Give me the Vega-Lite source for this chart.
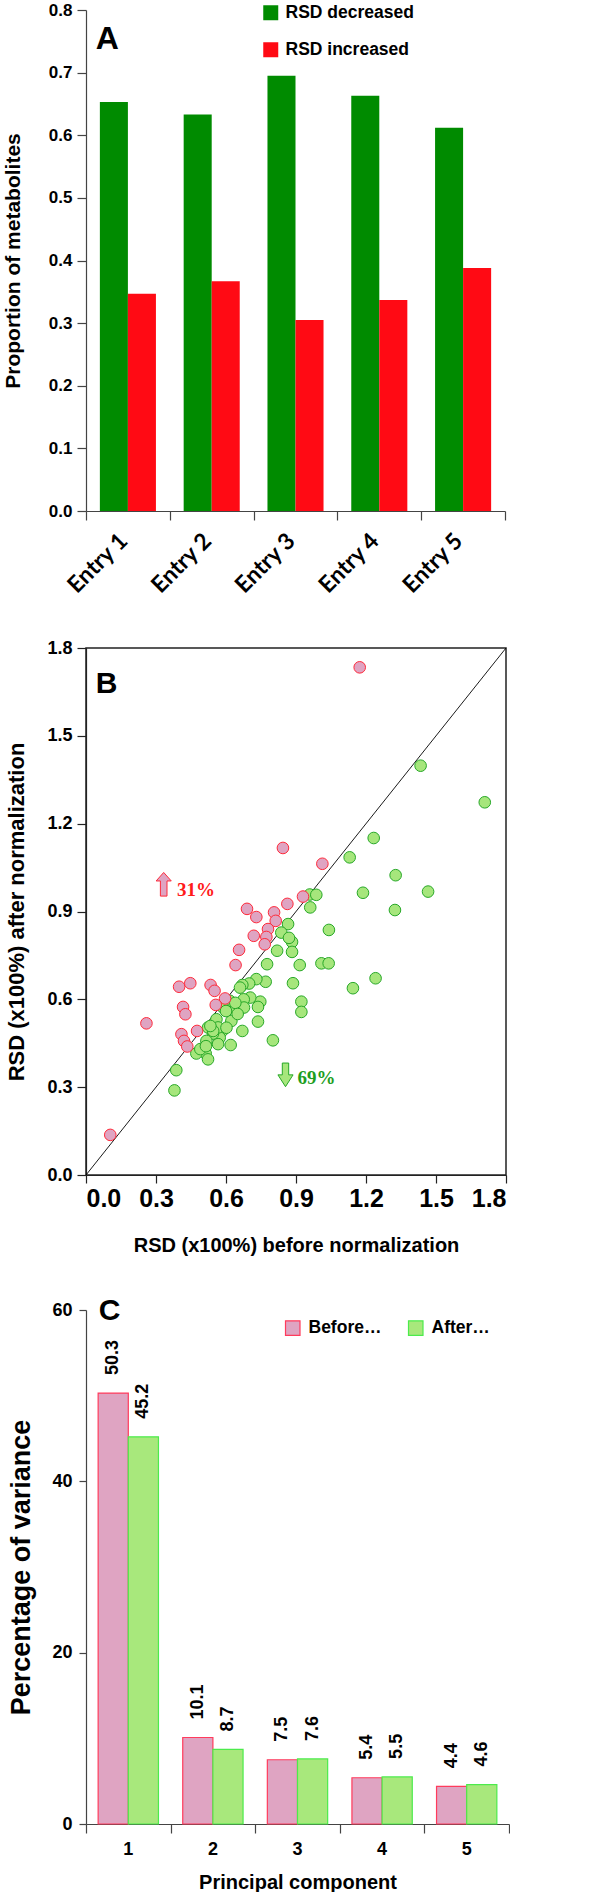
{
  "$schema": "https://vega.github.io/schema/vega-lite/v6.json",
  "padding": {"left": 2, "top": 1, "right": 0, "bottom": 0},
  "background": "white",
  "spacing": 40,
  "resolve": {
    "scale": {"xOffset": "independent", "color": "independent", "fill": "independent", "stroke": "independent", "shape": "independent"},
    "legend": {"color": "independent", "fill": "independent", "stroke": "independent", "shape": "independent"}
  },
  "config": {
    "view": {"stroke": null},
    "font": "Liberation Sans",
    "axis": {"grid": false, "domainColor": "#444", "tickColor": "#444", "domainWidth": 1.2, "tickWidth": 1.2,
      "labelFont": "Liberation Sans", "labelFontWeight": "bold", "labelColor": "#000",
      "titleFont": "Liberation Sans", "titleFontWeight": "bold", "titleColor": "#000"},
    "legend": {"labelFont": "Liberation Sans", "labelColor": "#000"}
  },
  "vconcat": [
    {
      "width": 419, "height": 501,
      "layer": [
        {
          "data": {"values": [
            {"entry": "Entry 1", "group": "RSD decreased", "value": 0.653},
            {"entry": "Entry 1", "group": "RSD increased", "value": 0.347},
            {"entry": "Entry 2", "group": "RSD decreased", "value": 0.633},
            {"entry": "Entry 2", "group": "RSD increased", "value": 0.367},
            {"entry": "Entry 3", "group": "RSD decreased", "value": 0.695},
            {"entry": "Entry 3", "group": "RSD increased", "value": 0.305},
            {"entry": "Entry 4", "group": "RSD decreased", "value": 0.663},
            {"entry": "Entry 4", "group": "RSD increased", "value": 0.337},
            {"entry": "Entry 5", "group": "RSD decreased", "value": 0.612},
            {"entry": "Entry 5", "group": "RSD increased", "value": 0.388}
          ]},
          "mark": {"type": "bar"},
          "encoding": {
            "x": {"field": "entry", "type": "nominal", "sort": null,
              "scale": {"paddingInner": 0.331, "paddingOuter": 0.1655},
              "axis": {"orient": "bottom", "title": null, "ticks": false, "domain": false, "labelAngle": -45,
                "labelFont": "Lato", "labelFontSize": 23, "labelFontWeight": "bold", "labelPadding": 26, "labelBaseline": "middle",
                "labelOffset": -4, "labelOverlap": false, "labelBound": false}},
            "xOffset": {"field": "group", "type": "nominal", "scale": {"domain": ["RSD decreased", "RSD increased"], "paddingInner": 0, "paddingOuter": 0}},
            "y": {"field": "value", "type": "quantitative", "scale": {"domain": [0, 0.8], "nice": false},
              "axis": {"values": [0, 0.1, 0.2, 0.3, 0.4, 0.5, 0.6, 0.7, 0.8], "format": ".1f", "tickSize": 9,
                "labelPadding": 5, "labelFontSize": 17, "title": "Proportion of metabolites", "titleFontSize": 21, "titlePadding": 25}},
            "color": {"field": "group", "type": "nominal",
              "scale": {"domain": ["RSD decreased", "RSD increased"], "range": ["#008B00", "#FF0A14"]},
              "legend": {"orient": "none", "legendX": 176, "legendY": -6, "title": null, "symbolType": "square",
                "symbolSize": 225, "symbolStrokeWidth": 0, "symbolOpacity": 1, "labelFontSize": 17.5, "labelFontWeight": "bold",
                "labelOffset": 6, "rowPadding": 18, "padding": 0}}
          }
        },
        {
          "layer": [
            {
              "data": {"values": [{"label": "A"}]},
              "mark": {"type": "text", "font": "Liberation Sans", "fontWeight": "bold", "fontSize": 32, "align": "left", "baseline": "alphabetic"},
              "encoding": {"x": {"datum": 0.115, "type": "quantitative"}, "y": {"datum": 0.738, "type": "quantitative"}, "text": {"field": "label"}}
            },
            {
              "data": {"values": [{}]},
              "mark": {"type": "rule", "opacity": 0},
              "encoding": {"x": {"datum": 0, "type": "quantitative", "scale": {"domain": [0, 5], "nice": false},
                "axis": {"orient": "bottom", "values": [0, 1, 2, 3, 4, 5], "labels": false, "title": null, "tickSize": 9, "domain": true}}}
            }
          ]
        }
      ],
      "resolve": {"scale": {"x": "independent"}, "axis": {"x": "independent"}}
    },
    {
      "width": 420, "height": 527,
      "view": {"stroke": "#222", "strokeWidth": 1.5},
      "layer": [
        {
          "data": {"values": [{}]},
          "mark": {"type": "rule", "color": "#000", "strokeWidth": 0.9},
          "encoding": {"x": {"datum": 0, "type": "quantitative"}, "y": {"datum": 0, "type": "quantitative"}, "x2": {"datum": 1.8}, "y2": {"datum": 1.8}}
        },
        {
          "data": {"values": [
            {"before": 1.434, "after": 1.398, "change": "decreased"},
            {"before": 1.709, "after": 1.273, "change": "decreased"},
            {"before": 1.233, "after": 1.151, "change": "decreased"},
            {"before": 1.13, "after": 1.085, "change": "decreased"},
            {"before": 1.327, "after": 1.024, "change": "decreased"},
            {"before": 1.187, "after": 0.964, "change": "decreased"},
            {"before": 1.466, "after": 0.968, "change": "decreased"},
            {"before": 0.959, "after": 0.958, "change": "decreased"},
            {"before": 0.987, "after": 0.957, "change": "decreased"},
            {"before": 0.961, "after": 0.914, "change": "decreased"},
            {"before": 1.324, "after": 0.905, "change": "decreased"},
            {"before": 1.041, "after": 0.837, "change": "decreased"},
            {"before": 0.866, "after": 0.857, "change": "decreased"},
            {"before": 0.837, "after": 0.828, "change": "decreased"},
            {"before": 0.883, "after": 0.796, "change": "decreased"},
            {"before": 0.883, "after": 0.762, "change": "decreased"},
            {"before": 0.819, "after": 0.766, "change": "decreased"},
            {"before": 0.776, "after": 0.72, "change": "decreased"},
            {"before": 0.916, "after": 0.717, "change": "decreased"},
            {"before": 1.009, "after": 0.723, "change": "decreased"},
            {"before": 1.04, "after": 0.723, "change": "decreased"},
            {"before": 1.241, "after": 0.672, "change": "decreased"},
            {"before": 1.144, "after": 0.638, "change": "decreased"},
            {"before": 0.887, "after": 0.655, "change": "decreased"},
            {"before": 0.923, "after": 0.592, "change": "decreased"},
            {"before": 0.923, "after": 0.557, "change": "decreased"},
            {"before": 0.801, "after": 0.46, "change": "decreased"},
            {"before": 0.77, "after": 0.66, "change": "decreased"},
            {"before": 0.73, "after": 0.669, "change": "decreased"},
            {"before": 0.699, "after": 0.654, "change": "decreased"},
            {"before": 0.67, "after": 0.649, "change": "decreased"},
            {"before": 0.747, "after": 0.592, "change": "decreased"},
            {"before": 0.737, "after": 0.574, "change": "decreased"},
            {"before": 0.737, "after": 0.524, "change": "decreased"},
            {"before": 0.704, "after": 0.606, "change": "decreased"},
            {"before": 0.676, "after": 0.6, "change": "decreased"},
            {"before": 0.677, "after": 0.572, "change": "decreased"},
            {"before": 0.63, "after": 0.572, "change": "decreased"},
            {"before": 0.616, "after": 0.595, "change": "decreased"},
            {"before": 0.623, "after": 0.526, "change": "decreased"},
            {"before": 0.62, "after": 0.444, "change": "decreased"},
            {"before": 0.67, "after": 0.492, "change": "decreased"},
            {"before": 0.584, "after": 0.492, "change": "decreased"},
            {"before": 0.573, "after": 0.469, "change": "decreased"},
            {"before": 0.566, "after": 0.447, "change": "decreased"},
            {"before": 0.544, "after": 0.483, "change": "decreased"},
            {"before": 0.559, "after": 0.532, "change": "decreased"},
            {"before": 0.566, "after": 0.504, "change": "decreased"},
            {"before": 0.516, "after": 0.458, "change": "decreased"},
            {"before": 0.523, "after": 0.504, "change": "decreased"},
            {"before": 0.513, "after": 0.415, "change": "decreased"},
            {"before": 0.473, "after": 0.415, "change": "decreased"},
            {"before": 0.523, "after": 0.395, "change": "decreased"},
            {"before": 0.387, "after": 0.358, "change": "decreased"},
            {"before": 0.379, "after": 0.289, "change": "decreased"},
            {"before": 0.49, "after": 0.43, "change": "decreased"},
            {"before": 0.514, "after": 0.44, "change": "decreased"},
            {"before": 0.545, "after": 0.492, "change": "decreased"},
            {"before": 0.64, "after": 0.588, "change": "decreased"},
            {"before": 0.589, "after": 0.571, "change": "decreased"},
            {"before": 0.533, "after": 0.509, "change": "decreased"},
            {"before": 0.602, "after": 0.503, "change": "decreased"},
            {"before": 0.66, "after": 0.64, "change": "decreased"},
            {"before": 0.6, "after": 0.56, "change": "decreased"},
            {"before": 0.65, "after": 0.55, "change": "decreased"},
            {"before": 0.87, "after": 0.81, "change": "decreased"},
            {"before": 1.173, "after": 1.734, "change": "increased"},
            {"before": 0.844, "after": 1.117, "change": "increased"},
            {"before": 1.013, "after": 1.063, "change": "increased"},
            {"before": 0.863, "after": 0.926, "change": "increased"},
            {"before": 0.93, "after": 0.951, "change": "increased"},
            {"before": 0.69, "after": 0.909, "change": "increased"},
            {"before": 0.73, "after": 0.881, "change": "increased"},
            {"before": 0.806, "after": 0.897, "change": "increased"},
            {"before": 0.813, "after": 0.868, "change": "increased"},
            {"before": 0.78, "after": 0.84, "change": "increased"},
            {"before": 0.719, "after": 0.817, "change": "increased"},
            {"before": 0.773, "after": 0.813, "change": "increased"},
            {"before": 0.766, "after": 0.788, "change": "increased"},
            {"before": 0.656, "after": 0.769, "change": "increased"},
            {"before": 0.641, "after": 0.717, "change": "increased"},
            {"before": 0.399, "after": 0.643, "change": "increased"},
            {"before": 0.447, "after": 0.655, "change": "increased"},
            {"before": 0.534, "after": 0.649, "change": "increased"},
            {"before": 0.551, "after": 0.629, "change": "increased"},
            {"before": 0.596, "after": 0.603, "change": "increased"},
            {"before": 0.556, "after": 0.581, "change": "increased"},
            {"before": 0.416, "after": 0.574, "change": "increased"},
            {"before": 0.426, "after": 0.549, "change": "increased"},
            {"before": 0.259, "after": 0.518, "change": "increased"},
            {"before": 0.476, "after": 0.492, "change": "increased"},
            {"before": 0.409, "after": 0.481, "change": "increased"},
            {"before": 0.42, "after": 0.458, "change": "increased"},
            {"before": 0.434, "after": 0.439, "change": "increased"},
            {"before": 0.104, "after": 0.137, "change": "increased"}
          ]},
          "mark": {"type": "point", "shape": "circle", "filled": true, "size": 135, "strokeWidth": 1, "opacity": 1},
          "encoding": {
            "x": {"field": "before", "type": "quantitative", "scale": {"domain": [0, 1.8], "nice": false},
              "axis": {"values": [0, 0.3, 0.6, 0.9, 1.2, 1.5, 1.8], "format": ".1f", "tickSize": 8, "labelFontSize": 25,
                "labelPadding": 3, "domainColor": "#222", "tickColor": "#222",
                "title": "RSD (x100%) before normalization", "titleFontSize": 20, "titlePadding": 24}},
            "y": {"field": "after", "type": "quantitative", "scale": {"domain": [0, 1.8], "nice": false},
              "axis": {"values": [0, 0.3, 0.6, 0.9, 1.2, 1.5, 1.8], "format": ".1f", "tickSize": 9, "labelFontSize": 18,
                "labelPadding": 5, "domainColor": "#222", "tickColor": "#222",
                "title": "RSD (x100%) after normalization", "titleFontSize": 22, "titlePadding": 18}},
            "fill": {"field": "change", "type": "nominal", "scale": {"domain": ["decreased", "increased"], "range": ["#A6E67C", "#DFA4C2"]}, "legend": null},
            "stroke": {"field": "change", "type": "nominal", "scale": {"domain": ["decreased", "increased"], "range": ["#27A827", "#FF2A3A"]}, "legend": null}
          }
        },
        {
          "data": {"values": [
            {"label": "31%", "ax": 0.333, "ay": 0.993, "tx": 0.39, "ty": 0.975, "kind": "up"},
            {"label": "69%", "ax": 0.855, "ay": 0.342, "tx": 0.906, "ty": 0.333, "kind": "down"}
          ]},
          "layer": [
            {
              "mark": {"type": "point", "filled": true, "size": 560, "strokeWidth": 1, "opacity": 1},
              "encoding": {
                "x": {"field": "ax", "type": "quantitative"},
                "y": {"field": "ay", "type": "quantitative"},
                "shape": {"field": "kind", "type": "nominal", "scale": {"domain": ["up", "down"], "range": [
                  "M -0.28 1 L -0.28 -0.28 L -0.64 -0.28 L 0 -1 L 0.64 -0.28 L 0.28 -0.28 L 0.28 1 Z",
                  "M -0.27 -1 L -0.27 0 L -0.64 0 L 0 1 L 0.64 0 L 0.27 0 L 0.27 -1 Z"]}, "legend": null},
                "fill": {"field": "kind", "type": "nominal", "scale": {"domain": ["up", "down"], "range": ["#DFA4C2", "#A6E67C"]}, "legend": null},
                "stroke": {"field": "kind", "type": "nominal", "scale": {"domain": ["up", "down"], "range": ["#FF2A3A", "#27A827"]}, "legend": null}
              }
            },
            {
              "mark": {"type": "text", "font": "Liberation Serif", "fontWeight": "bold", "fontSize": 19, "align": "left", "baseline": "middle"},
              "encoding": {
                "x": {"field": "tx", "type": "quantitative"},
                "y": {"field": "ty", "type": "quantitative"},
                "text": {"field": "label"},
                "color": {"field": "kind", "type": "nominal", "scale": {"domain": ["up", "down"], "range": ["#FF1A1A", "#1E9E1E"]}, "legend": null}
              }
            }
          ]
        },
        {
          "data": {"values": [{"label": "B"}]},
          "mark": {"type": "text", "font": "Liberation Sans", "fontWeight": "bold", "fontSize": 30, "align": "left", "baseline": "alphabetic"},
          "encoding": {"x": {"datum": 0.042, "type": "quantitative"}, "y": {"datum": 1.647, "type": "quantitative"}, "text": {"field": "label"}}
        }
      ],
      "resolve": {"scale": {"color": "independent", "fill": "independent", "stroke": "independent"}}
    },
    {
      "width": 423, "height": 514,
      "layer": [
        {
          "data": {"values": [
            {"pc": "1", "series": "Before…", "value": 50.3},
            {"pc": "1", "series": "After…", "value": 45.2},
            {"pc": "2", "series": "Before…", "value": 10.1},
            {"pc": "2", "series": "After…", "value": 8.7},
            {"pc": "3", "series": "Before…", "value": 7.5},
            {"pc": "3", "series": "After…", "value": 7.6},
            {"pc": "4", "series": "Before…", "value": 5.4},
            {"pc": "4", "series": "After…", "value": 5.5},
            {"pc": "5", "series": "Before…", "value": 4.4},
            {"pc": "5", "series": "After…", "value": 4.6}
          ]},
          "encoding": {
            "x": {"field": "pc", "type": "ordinal", "sort": null,
              "scale": {"paddingInner": 0.287, "paddingOuter": 0.1435},
              "axis": {"orient": "bottom", "ticks": false, "domain": false, "labelAngle": 0, "labelFontSize": 18, "labelPadding": 16,
                "title": "Principal component", "titleFontSize": 20, "titlePadding": 14}},
            "xOffset": {"field": "series", "type": "nominal", "scale": {"domain": ["Before…", "After…"], "paddingInner": 0, "paddingOuter": 0}},
            "y": {"field": "value", "type": "quantitative", "scale": {"domain": [0, 60], "nice": false},
              "axis": {"values": [0, 20, 40, 60], "tickSize": 7, "labelFontSize": 18, "labelPadding": 7,
                "title": "Percentage of variance", "titleFontSize": 27, "titlePadding": 16}}
          },
          "layer": [
            {
              "mark": {"type": "bar", "strokeWidth": 1.2},
              "encoding": {
                "fill": {"field": "series", "type": "nominal", "scale": {"domain": ["Before…", "After…"], "range": ["#DFA4C2", "#A8E87C"]},
                  "legend": {"orient": "none", "legendX": 198, "legendY": 9, "direction": "horizontal", "title": null, "symbolType": "square",
                    "symbolSize": 210, "symbolStrokeWidth": 1.2, "symbolOpacity": 1, "labelFontSize": 17.5, "labelFontWeight": "bold", "labelOffset": 7,
                    "columnPadding": 24, "padding": 0}},
                "stroke": {"field": "series", "type": "nominal", "scale": {"domain": ["Before…", "After…"], "range": ["#FF3B5C", "#4CEB4C"]},
                  "legend": {"orient": "none", "legendX": 198, "legendY": 9, "direction": "horizontal", "title": null, "symbolType": "square",
                    "symbolSize": 210, "symbolStrokeWidth": 1.2, "symbolOpacity": 1, "labelFontSize": 17.5, "labelFontWeight": "bold", "labelOffset": 7,
                    "columnPadding": 24, "padding": 0}}
              }
            },
            {
              "mark": {"type": "text", "angle": 270, "align": "left", "baseline": "middle", "dx": 18, "font": "Liberation Sans", "fontWeight": "bold", "fontSize": 18, "color": "#000"},
              "encoding": {"text": {"field": "value", "type": "quantitative", "format": ".1f"}}
            }
          ]
        },
        {
          "layer": [
            {
              "data": {"values": [{"label": "C"}]},
              "mark": {"type": "text", "font": "Liberation Sans", "fontWeight": "bold", "fontSize": 30, "align": "left", "baseline": "alphabetic"},
              "encoding": {"x": {"datum": 0.15, "type": "quantitative"}, "y": {"datum": 58.8, "type": "quantitative"}, "text": {"field": "label"}}
            },
            {
              "data": {"values": [{}]},
              "mark": {"type": "rule", "opacity": 0},
              "encoding": {"x": {"datum": 0, "type": "quantitative", "scale": {"domain": [0, 5], "nice": false},
                "axis": {"orient": "bottom", "values": [0, 1, 2, 3, 4, 5], "labels": false, "title": null, "tickSize": 9, "domain": true}}}
            }
          ]
        }
      ],
      "resolve": {"scale": {"x": "independent"}, "axis": {"x": "independent"}}
    }
  ]
}
